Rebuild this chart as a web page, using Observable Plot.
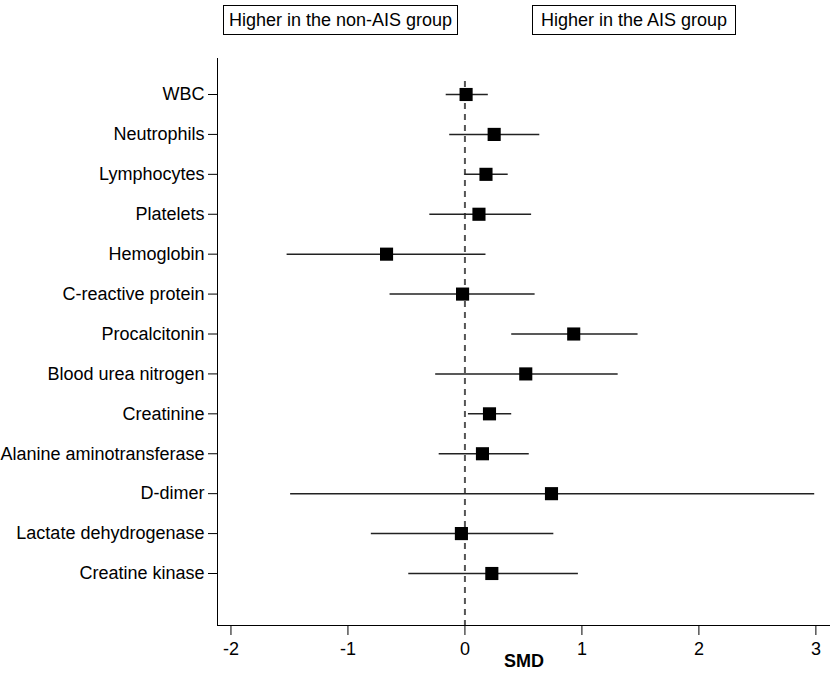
<!DOCTYPE html>
<html>
<head>
<meta charset="utf-8">
<script src="https://cdn.jsdelivr.net/npm/d3@7"></script>
<script src="https://cdn.jsdelivr.net/npm/@observablehq/plot@0.6"></script>
<style>
  html, body { margin: 0; padding: 0; background: #fff; }
  #wrap { position: relative; width: 830px; height: 682px; font-family: "Liberation Sans", Arial, sans-serif; }
  #header { position: relative; height: 40px; }
  .box { position: absolute; top: 5px; height: 28px; border: 1px solid #000; font-size: 18px; line-height: 28px; text-align: center; color: #000; box-sizing: content-box; white-space: nowrap; }
  #chart svg { display: block; }
</style>
</head>
<body>
<div id="wrap">
  <div id="header">
    <div class="box" style="left:223px; width:233px;">Higher in the non-AIS group</div>
    <div class="box" style="left:532px; width:202px;">Higher in the AIS group</div>
  </div>
  <div id="chart"></div>
</div>
<script>
const labels = ["WBC","Neutrophils","Lymphocytes","Platelets","Hemoglobin","C-reactive protein","Procalcitonin","Blood urea nitrogen","Creatinine","Alanine aminotransferase","D-dimer","Lactate dehydrogenase","Creatine kinase"];
const smd   = [0.01, 0.25, 0.18, 0.12, -0.67, -0.02, 0.93, 0.52, 0.21, 0.15, 0.74, -0.03, 0.23];
const lower = [-0.16, -0.13, 0.00, -0.30, -1.52, -0.64, 0.40, -0.25, 0.03, -0.22, -1.49, -0.80, -0.48];
const upper = [0.20, 0.64, 0.37, 0.57, 0.18, 0.60, 1.48, 1.31, 0.40, 0.55, 2.99, 0.76, 0.97];
const xTicks = [-2, -1, 0, 1, 2, 3];
const xLabel = ["SMD"];

const data = labels.map((l, i) => ({label: l, smd: smd[i], lo: lower[i], hi: upper[i]}));

const chart = Plot.plot({
  width: 830,
  height: 642,
  marginTop: 18,
  marginBottom: 57,
  marginLeft: 217,
  marginRight: 0,
  style: {fontFamily: "'Liberation Sans', Arial, sans-serif", fontSize: "18px", color: "#000", background: "#fff"},
  x: {domain: [-2.115, 3.125], ticks: xTicks, tickSize: 10, tickPadding: 7, line: true, label: null, tickFormat: d => String(d)},
  y: {type: "point", domain: labels, range: [54, 533], padding: 0, round: false, tickSize: 9, tickPadding: 4, line: true, label: null},
  marks: [
    Plot.ruleX([0], {insetTop: 23, stroke: "#555", strokeWidth: 2, strokeDasharray: "6,5"}),
    Plot.ruleY(data, {y: "label", x1: "lo", x2: "hi", stroke: "#222", strokeWidth: 1.5}),
    Plot.dot(data, {x: "smd", y: "label", symbol: "square", r: 7.4, fill: "#000", stroke: "none"}),
    Plot.text(xLabel, {frameAnchor: "bottom", dy: 41, fontWeight: "bold", fontSize: 18, fill: "#000"})
  ]
});
document.getElementById("chart").appendChild(chart);
</script>
</body>
</html>
